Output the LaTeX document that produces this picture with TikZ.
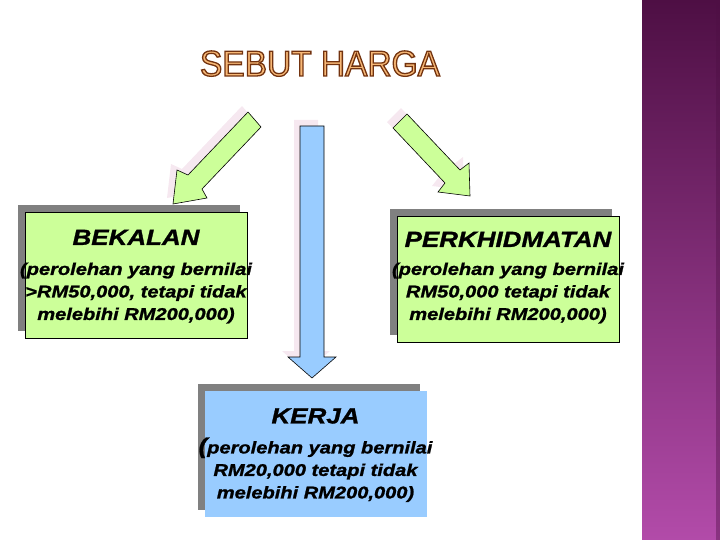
\documentclass[tikz,border=0pt]{standalone}
\usepackage{fontspec}
\usetikzlibrary{shadows}
\newfontfamily\boxfont[FakeStretch=1.18,FakeBold=1.2]{Liberation Sans}
\newfontfamily\headfont[FakeStretch=0.93]{Liberation Sans}
\definecolor{boxgreen}{HTML}{CCFF99}
\definecolor{boxblue}{HTML}{99CCFF}
\definecolor{shadegray}{HTML}{808080}
\definecolor{shadepink}{HTML}{F6E8F0}
\definecolor{titlefill}{HTML}{F7B877}
\definecolor{barTop}{HTML}{4E0F44}
\definecolor{barBottom}{HTML}{B24BA9}
\newcommand{\outlined}[1]{\special{pdf:literal direct 2 Tr 1.3 w 0.45 0.2 0.06 RG}#1\special{pdf:literal direct 0 Tr}}

\begin{document}
\begin{tikzpicture}[x=1pt,y=-1pt,
  greenbox/.style={
    draw=black, line width=0.8pt, fill=boxgreen, inner sep=0pt,
    minimum width=222pt, minimum height=126pt,
    general shadow={fill=shadegray, shadow xshift=-7pt, shadow yshift=7pt},
  },
  bluebox/.style={greenbox, draw=none, fill=boxblue},
  boxtext/.style={anchor=north, align=center, inner sep=0pt,
    font=\boxfont\bfseries\itshape\fontsize{17}{22.5}\selectfont},
  blockarrow/.style={draw=black, line width=0.6pt,
    general shadow={fill=shadepink, shadow xshift=-6pt, shadow yshift=6pt}},
  ]
  \useasboundingbox (0,0) rectangle (720,540);
  \shade[top color=barTop, bottom color=barBottom] (642,0) rectangle (720,540);
  \fill[barTop, opacity=0.4] (716,0) rectangle (720,540);

  \node[font=\headfont\fontsize{36}{40}\selectfont, text=titlefill, anchor=base, inner sep=0pt] (title) at (320,76) {\outlined{SEBUT HARGA}};

  % arrows
  \filldraw[blockarrow, fill=boxgreen] (248,112) -- (261,127) -- (202,189) -- (207,198) -- (173,204) -- (177,170) -- (188,175) -- cycle;
  \filldraw[blockarrow, fill=boxgreen] (407,114) -- (460,170) -- (469,163) -- (470,196) -- (438,192) -- (445,183) -- (393,128) -- cycle;
  \filldraw[blockarrow, fill=boxblue] (300,126) -- (324,126) -- (324,357) -- (336,357) -- (312,378) -- (288,357) -- (300,357) -- cycle;

  % boxes
  \node[greenbox] (bekalan) at (136,275) {};
  \node[boxtext] (bekalantext) at ([yshift=-18pt]bekalan.north) {{\fontsize{22}{22.5}\selectfont BEKALAN}\\[7.5pt]
    (perolehan yang bernilai\\ >RM50,000, tetapi tidak\\ melebihi RM200,000)};
  \node[greenbox] (perkhidmatan) at (508,279) {};
  \node[boxtext] (perkhidmatantext) at ([yshift=-16pt]perkhidmatan.north) {{\fontsize{22}{22.5}\selectfont PERKHIDMATAN}\\[5.5pt]
    (perolehan yang bernilai\\ RM50,000 tetapi tidak\\ melebihi RM200,000)};
  \node[bluebox] (kerja) at (315.5,453.5) {};
  \node[boxtext] (kerjatext) at ([yshift=-18pt]kerja.north) {{\fontsize{22}{22.5}\selectfont KERJA}\\[7.5pt]
    {\fontsize{22}{22.5}\selectfont(}perolehan yang bernilai\\ RM20,000 tetapi tidak\\ melebihi RM200,000)};
\end{tikzpicture}
\end{document}
